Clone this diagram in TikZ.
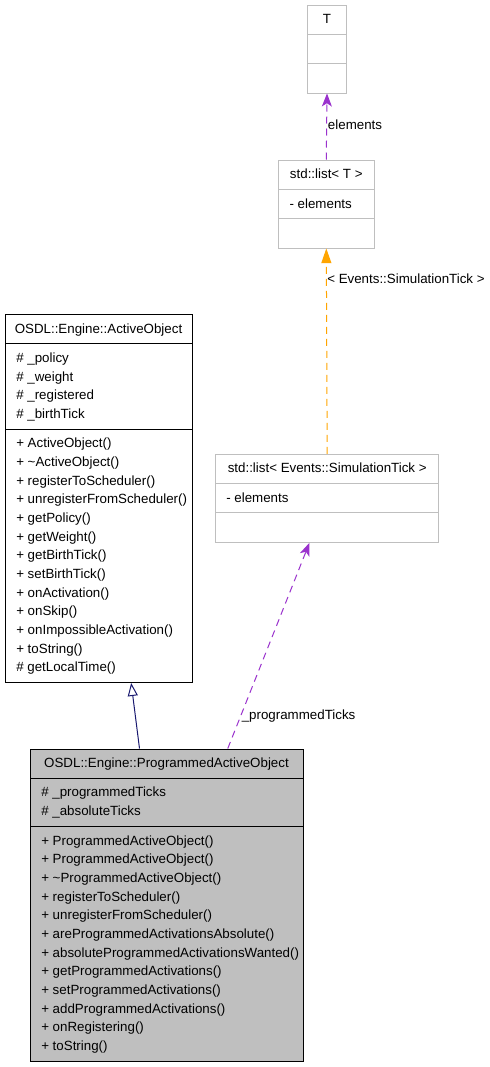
\documentclass[tikz,border=0pt]{standalone}
\usepackage{fontspec}
\setmainfont{Liberation Sans}
\usetikzlibrary{arrows.meta,fit}
\definecolor{gvpurple}{HTML}{9A32CD}
\definecolor{gvorange}{HTML}{FFA500}
\definecolor{gvblue}{HTML}{191970}
\definecolor{gvgrey}{HTML}{BFBFBF}
\begin{document}
\begin{tikzpicture}[x=0.75pt,y=-0.75pt,
  font=\fontsize{10pt}{12pt}\selectfont,
  box/.style={draw, line width=0.75pt, inner sep=0pt},
  greybox/.style={box, draw=gvgrey},
  blackbox/.style={box, draw=black},
  divider/.style={line width=0.75pt},
  txt/.style={anchor=base west, inner sep=0pt},
  hdr/.style={anchor=base, inner sep=0pt},
  edge/.style={line width=0.75pt},
  usage/.style={edge, gvpurple, dash pattern=on 5.25pt off 3.75pt, -{Stealth[length=9.75pt, width=7.5pt, inset=2.5pt]}},
  templ/.style={edge, gvorange, dash pattern=on 5.25pt off 3.75pt, -{Triangle[length=11pt, width=7.5pt]}},
  inherit/.style={edge, gvblue, -{Triangle[open, length=9.75pt, width=7.5pt, fill=white]}}
]
\path[fill=white] (0,0) rectangle (489,1067);
\useasboundingbox (0,0) rectangle (489,1067);

% ---------- T ----------
\node[greybox, fit={(307.3,5) (346.7,93)}] (T) {};
\draw[divider, gvgrey] (307.3,34.3) -- (346.7,34.3);
\draw[divider, gvgrey] (307.3,63.3) -- (346.7,63.3);
\node[hdr] (Th) at (327,23.5) {T};

% ---------- std::list< T > ----------
\node[greybox, fit={(278.3,160) (374.3,248)}] (lt) {};
\draw[divider, gvgrey] (278.3,189.3) -- (374.3,189.3);
\draw[divider, gvgrey] (278.3,218.7) -- (374.3,218.7);
\node[hdr] (lth) at (326.3,178.5) {std::list< T >};
\node[txt] (lta) at (289.3,208) {- elements};

% ---------- std::list< Events::SimulationTick > ----------
\node[greybox, fit={(215.7,454.3) (438.7,542.3)}] (le) {};
\draw[divider, gvgrey] (215.7,483.3) -- (438.7,483.3);
\draw[divider, gvgrey] (215.7,512.7) -- (438.7,512.7);
\node[hdr] (leh) at (327.2,472.6) {std::list< Events::SimulationTick >};
\node[txt] (lea) at (226,502) {- elements};

% ---------- OSDL::Engine::ActiveObject ----------
\node[blackbox, fit={(5,314.5) (192,682.5)}] (ao) {};
\draw[divider] (5,343.5) -- (192,343.5);
\draw[divider] (5,429.3) -- (192,429.3);
\node[hdr] (aoh) at (98.5,333) {OSDL::Engine::ActiveObject};
\foreach \t [count=\i] in {\# \_policy, \# \_weight, \# \_registered, \# \_birthTick}
  \node[txt] (aoa\i) at (16,{358.4+(\i-1)*18.67+4}) {\t};
\foreach \t [count=\i] in {+ ActiveObject(), + \textasciitilde ActiveObject(), + registerToScheduler(),
  + unregisterFromScheduler(), + getPolicy(), + getWeight(), + getBirthTick(), + setBirthTick(),
  + onActivation(), + onSkip(), + onImpossibleActivation(), + toString(), \# getLocalTime()}
  \node[txt] (aom\i) at (16,{443.9+(\i-1)*18.67+4}) {\t};

% ---------- OSDL::Engine::ProgrammedActiveObject ----------
\node[blackbox, fill=gvgrey, fit={(30,749) (303,1061)}] (po) {};
\draw[divider] (30,778) -- (303,778);
\draw[divider] (30,826.3) -- (303,826.3);
\node[hdr] (poh) at (166.5,767.5) {OSDL::Engine::ProgrammedActiveObject};
\foreach \t [count=\i] in {\# \_programmedTicks, \# \_absoluteTicks}
  \node[txt] (poa\i) at (41,{792.8+(\i-1)*18.67+4}) {\t};
\foreach \t [count=\i] in {+ ProgrammedActiveObject(), + ProgrammedActiveObject(),
  + \textasciitilde ProgrammedActiveObject(), + registerToScheduler(), + unregisterFromScheduler(),
  + areProgrammedActivationsAbsolute(), + absoluteProgrammedActivationsWanted(),
  + getProgrammedActivations(), + setProgrammedActivations(), + addProgrammedActivations(),
  + onRegistering(), + toString()}
  \node[txt] (pom\i) at (41,{841.0+(\i-1)*18.67+4}) {\t};

% ---------- connectors ----------
\draw[usage] (lt.north) -- (T.south);
\node[txt] (l1) at (327.7,129) {elements};

\draw[templ] (le.north) -- (lt.south);
\node[txt] (l2) at (327,283.5) {< Events::SimulationTick >};

\draw[inherit] ([xshift=82.5pt]po.north west) -- ([xshift=95pt]ao.south west);

\draw[usage] ([xshift=148.7pt]po.north west) -- ([xshift=70.7pt]le.south west);
\node[txt] (l3) at (241.5,719) {\_programmedTicks};
\end{tikzpicture}
\end{document}
